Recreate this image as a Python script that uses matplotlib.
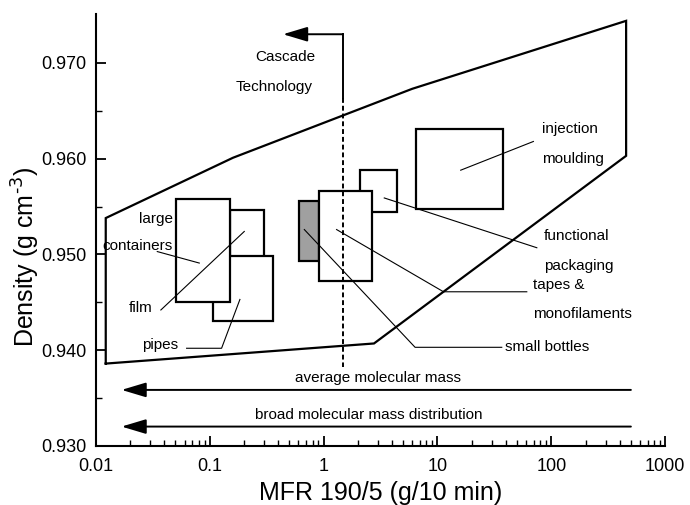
import numpy as np
import matplotlib
matplotlib.use('Agg')
import matplotlib.pyplot as plt
from matplotlib.patches import Rectangle
from matplotlib.ticker import FixedLocator, LogLocator, NullFormatter

plt.rcParams['font.family'] = ['Liberation Sans', 'DejaVu Sans']
plt.rcParams['mathtext.default'] = 'regular'

# processing window of the resin (MFR, density)
envelope_mfr = [0.0122, 0.0122, 0.160, 6.0, 454, 454, 2.77, 0.0122]
envelope_rho = [0.9386, 0.9538, 0.9601, 0.9673, 0.9744, 0.9603, 0.9407, 0.9386]

# application boxes: (mfr_lo, mfr_hi, rho_lo, rho_hi), drawn in this order
box_names = ['film', 'pipes', 'large containers', 'functional packaging',
             'small bottles', 'tapes', 'injection moulding']
box_mfr = [(0.150, 0.299), (0.106, 0.357), (0.051, 0.150), (2.09, 4.39),
           (0.611, 0.916), (0.916, 2.65), (6.49, 37.5)]
box_rho = [(0.9480, 0.9546), (0.9430, 0.9498), (0.9450, 0.9558), (0.9544, 0.9588),
           (0.9493, 0.9556), (0.9472, 0.9566), (0.9547, 0.9631)]
box_fill = ['white', 'white', 'white', 'white', '#a0a0a0', 'white', 'white']

# leader lines from labels to boxes
leader_mfr = [[0.0346, 0.0809], [0.0372, 0.201], [0.0626, 0.127, 0.184],
              [0.677, 6.36, 36.7], [1.30, 11.3, 60.9], [3.41, 74.6], [16.0, 69.6]]
leader_rho = [[0.9503, 0.9491], [0.9442, 0.9524], [0.9402, 0.9402, 0.9453],
              [0.9526, 0.9403, 0.9403], [0.9526, 0.9461, 0.9461], [0.9559, 0.9507],
              [0.9588, 0.9618]]

labels = ['large', 'containers', 'film', 'pipes', 'injection', 'moulding',
          'functional', 'packaging', 'tapes &', 'monofilaments', 'small bottles']
label_mfr = [0.0475, 0.0475, 0.0317, 0.0529, 82.5, 82.5, 85.3, 86.6, 68.8, 68.8, 39.3]
label_rho = [0.9537, 0.9509, 0.9444, 0.9405, 0.9631, 0.9600, 0.9519, 0.9488,
             0.9468, 0.9438, 0.9403]
label_ha = ['right'] * 4 + ['left'] * 7

# cascade technology limit
cascade_mfr = 1.48
cascade_tip = 0.44
cascade_top = 0.9730
cascade_solid_end = 0.9663
cascade_bottom = 0.9382

# bottom trend arrows
trend_text = ['average molecular mass', 'broad molecular mass distribution']
trend_text_mfr = [3.0, 2.47]
trend_text_rho = [0.9371, 0.9332]
trend_rho = [0.93585, 0.93202]
trend_from = 500
trend_to = 0.0168

fig = plt.figure(figsize=(6.9, 5.05), dpi=100)
ax = fig.add_axes([0.139, 0.117, 0.825, 0.855])
ax.set_xscale('log')
ax.set_xlim(0.01, 1000)
ax.set_ylim(0.930, 0.9751)

ax.plot(envelope_mfr, envelope_rho, color='k', lw=1.6, solid_joinstyle='miter')

for (x0, x1), (y0, y1), fc in zip(box_mfr, box_rho, box_fill):
    ax.add_patch(Rectangle((x0, y0), x1 - x0, y1 - y0, facecolor=fc,
                           edgecolor='k', lw=1.6, zorder=2))

for xs, ys in zip(leader_mfr, leader_rho):
    ax.plot(xs, ys, color='k', lw=0.8, zorder=3)

for t, x, y, ha in zip(labels, label_mfr, label_rho, label_ha):
    ax.text(x, y, t, ha=ha, va='center', fontsize=11)

# cascade line and arrow
ax.plot([cascade_mfr, cascade_mfr], [cascade_top, cascade_solid_end], color='k', lw=1.4)
ax.plot([cascade_mfr, cascade_mfr], [cascade_solid_end, cascade_bottom], color='k',
        lw=1.4, ls=(0, (2.5, 1.5)))
ax.annotate('', xy=(cascade_tip, cascade_top), xytext=(cascade_mfr, cascade_top),
            arrowprops=dict(arrowstyle='-|>,head_length=1.0,head_width=0.3',
                            mutation_scale=15, lw=1.4, color='k',
                            shrinkA=0, shrinkB=0))
ax.text(0.84, 0.9706, 'Cascade', ha='right', va='center', fontsize=11)
ax.text(0.807, 0.9675, 'Technology', ha='right', va='center', fontsize=11)

for t, tx, ty, y in zip(trend_text, trend_text_mfr, trend_text_rho, trend_rho):
    ax.annotate('', xy=(trend_to, y), xytext=(trend_from, y),
                arrowprops=dict(arrowstyle='-|>,head_length=1.0,head_width=0.3',
                                mutation_scale=15, lw=1.4, color='k',
                                shrinkA=0, shrinkB=0))
    ax.text(tx, ty, t, ha='center', va='center', fontsize=11)

ax.spines['top'].set_visible(False)
ax.spines['right'].set_visible(False)
ax.spines['left'].set_linewidth(1.5)
ax.spines['bottom'].set_linewidth(1.5)

ax.set_yticks([0.930, 0.940, 0.950, 0.960, 0.970])
ax.set_yticklabels(['0.930', '0.940', '0.950', '0.960', '0.970'])
ax.yaxis.set_minor_locator(FixedLocator([0.935, 0.945, 0.955, 0.965]))
ax.set_xticks([0.01, 0.1, 1, 10, 100, 1000])
ax.set_xticklabels(['0.01', '0.1', '1', '10', '100', '1000'])
ax.xaxis.set_minor_locator(LogLocator(base=10, subs=np.arange(2, 10)))
ax.xaxis.set_minor_formatter(NullFormatter())
ax.tick_params(which='major', direction='in', length=7, width=1.3, labelsize=13, pad=7)
ax.tick_params(which='minor', direction='in', length=4, width=1.0)
ax.tick_params(axis='x', which='major', pad=9)

ax.set_xlabel('MFR 190/5 (g/10 min)', fontsize=18, labelpad=4)
ax.set_ylabel(r'Density (g cm$^{\text{-3}}$)', fontsize=18, va='center')
ax.yaxis.set_label_coords(-0.123, 0.4375)

fig.savefig('out.png', dpi=100)
